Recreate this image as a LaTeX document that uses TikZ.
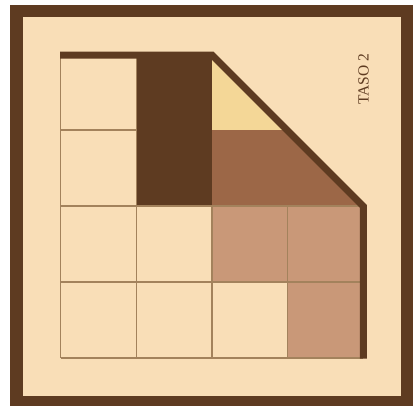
\documentclass[tikz,border=0pt]{standalone}
\usepackage{fontspec}
\newfontfamily\labelfont{Liberation Serif}
\definecolor{bgpeach}{HTML}{F9DEB7}
\definecolor{darkbrown}{HTML}{5E3B21}
\definecolor{midbrown}{HTML}{9C6747}
\definecolor{tanbrown}{HTML}{C99878}
\definecolor{paleyellow}{HTML}{F4D797}
\definecolor{gridline}{HTML}{A3825C}
\tikzset{
  thinline/.style={draw=gridline, line width=1.2pt},
  thickline/.style={draw=darkbrown, line width=7pt, line join=miter},
}
\begin{document}
\begin{tikzpicture}[x=1pt,y=-1pt]
\useasboundingbox (0,0) rectangle (417,405);
\fill[white] (0,0) rectangle (417,405);
% frame
\fill[darkbrown] (9.5,5) rectangle (413,408);
\fill[bgpeach] (22.5,17) rectangle (401,396);
% coloured cells
\fill[darkbrown] (136.5,55) rectangle (212,206);
\fill[paleyellow] (212,55) -- (287.6,130) -- (212,130) -- cycle;
\fill[midbrown] (212,130) -- (287.6,130) -- (363,206) -- (212,206) -- cycle;
\fill[tanbrown] (212,206) rectangle (363,282);
\fill[tanbrown] (287.6,282) rectangle (363,358);
% thin grid lines
\draw[thinline] (60.5,55) -- (60.5,358);
\draw[thinline] (136.5,55) -- (136.5,358);
\draw[thinline] (212,206) -- (212,358);
\draw[thinline] (287.6,206) -- (287.6,358);
\draw[thinline] (60.5,130) -- (136.5,130);
\draw[thinline] (60.5,206) -- (363,206);
\draw[thinline] (60.5,282) -- (363,282);
\draw[thinline] (60.5,358) -- (363,358);
% thick outline
\draw[thickline] (60,55) -- (212,55) -- (363.3,206.3) -- (363.3,358.5);
% label
\node[rotate=90, text=darkbrown, font=\labelfont\fontsize{15.5}{15.5}\selectfont, inner sep=0pt] (taso) at (363.5,79) {TASO 2};
\end{tikzpicture}
\end{document}
